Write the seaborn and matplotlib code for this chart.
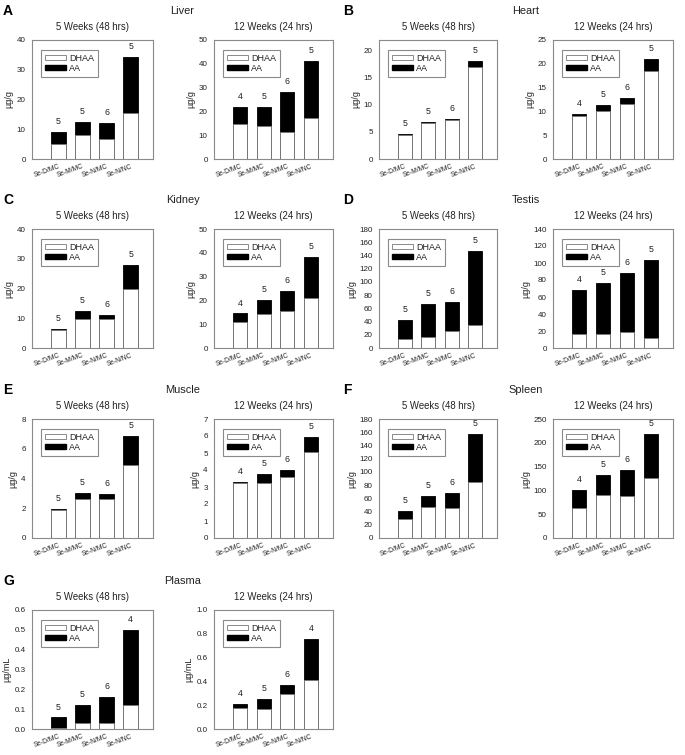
import numpy as np
import pandas as pd
import seaborn as sns
import matplotlib.pyplot as plt
from matplotlib.patches import Patch

#groups on x axis
groups = ['Se-D/MC', 'Se-M/MC', 'Se-N/MC', 'Se-N/NC']

#sample sizes above bars
n_5wk = [5, 5, 6, 5]
n_12wk = [4, 5, 6, 5]
n_plasma_5wk = [5, 5, 6, 4]
n_plasma_12wk = [4, 5, 6, 4]

#liver (ug/g)
liver_dhaa_5wk = [5.2, 8.0, 6.8, 15.3]
liver_total_5wk = [9.0, 12.4, 12.0, 34.3]
liver_dhaa_12wk = [14.8, 14.0, 11.5, 17.2]
liver_total_12wk = [21.8, 22.0, 28.2, 41.3]

#heart
heart_dhaa_5wk = [4.5, 6.6, 7.2, 17.0]
heart_total_5wk = [4.7, 6.85, 7.4, 18.2]
heart_dhaa_12wk = [9.0, 10.0, 11.6, 18.4]
heart_total_12wk = [9.5, 11.4, 12.9, 21.0]

#kidney
kidney_dhaa_5wk = [6.2, 9.6, 9.6, 19.7]
kidney_total_5wk = [6.5, 12.4, 11.1, 27.9]
kidney_dhaa_12wk = [11.0, 14.3, 15.4, 21.0]
kidney_total_12wk = [14.5, 20.2, 23.8, 38.3]

#testis
testis_dhaa_5wk = [14, 17, 25, 35]
testis_total_5wk = [43, 67, 69, 147]
testis_dhaa_12wk = [16, 16.5, 19, 12]
testis_total_12wk = [68, 77, 88, 104]

#muscle
muscle_dhaa_5wk = [1.9, 2.6, 2.65, 4.9]
muscle_total_5wk = [1.97, 3.05, 2.95, 6.85]
muscle_dhaa_12wk = [3.22, 3.22, 3.58, 5.03]
muscle_total_12wk = [3.28, 3.78, 4.0, 5.97]

#spleen
spleen_dhaa_5wk = [29, 47, 45, 84]
spleen_total_5wk = [41, 64, 68, 157]
spleen_dhaa_12wk = [64, 90, 88, 127]
spleen_total_12wk = [101, 132, 142, 219]

#plasma (ug/mL)
plasma_dhaa_5wk = [0.003, 0.03, 0.03, 0.12]
plasma_total_5wk = [0.058, 0.12, 0.16, 0.50]
plasma_dhaa_12wk = [0.18, 0.17, 0.29, 0.41]
plasma_total_12wk = [0.21, 0.25, 0.37, 0.76]

sns.set_style('white')
plt.rcParams['font.family'] = ['Liberation Sans', 'DejaVu Sans']

TEXT = '#222222'
EDGE = '#8a8a8a'
W, H = 685, 755

fig = plt.figure(figsize=(W / 100, H / 100), dpi=100)


def add_ax(x0, y0, w, h):
    return fig.add_axes([x0 / W, 1 - (y0 + h) / H, w / W, h / H])


def draw_panel(ax, dhaa, total, n, ymax, ystep, ylabel, fmt, w):
    df = pd.DataFrame({'group': groups, 'DHAA': dhaa, 'Total': total})
    #total bar in black, DHAA part drawn over it in white
    sns.barplot(data=df, x='group', y='Total', color='black', width=0.6,
                saturation=1, errorbar=None, edgecolor='black', linewidth=0.6, ax=ax)
    sns.barplot(data=df, x='group', y='DHAA', color='white', width=0.6,
                saturation=1, errorbar=None, edgecolor='#777777', linewidth=0.7, ax=ax)
    for i, (t, k) in enumerate(zip(total, n)):
        ax.annotate(str(k), (i, t), xytext=(0, 7.5), textcoords='offset points',
                    ha='center', va='center', fontsize=6.3, color=TEXT)
    ax.set_xlim(-1.1, 3.93)
    ax.set_ylim(0, ymax)
    ticks = np.arange(0, ymax + ystep / 2, ystep)
    ax.set_yticks(ticks)
    ax.set_yticklabels([fmt.format(t) for t in ticks], fontsize=5.8, color=TEXT)
    ax.set_xticks(range(4))
    ax.set_xticklabels(groups, rotation=20, ha='right', rotation_mode='anchor',
                       fontsize=4.8, color=TEXT)
    ax.tick_params(axis='x', length=0, pad=3)
    ax.tick_params(axis='y', length=2.5, width=0.6, color=EDGE, pad=2)
    ax.set_xlabel('')
    ax.set_ylabel(ylabel, fontsize=6.5, color=TEXT, labelpad=2.5)
    for s in ax.spines.values():
        s.set_color(EDGE)
        s.set_linewidth(0.8)
    handles = [Patch(facecolor='white', edgecolor='#777777', linewidth=0.6, label='DHAA'),
               Patch(facecolor='black', edgecolor='black', label='AA')]
    leg = ax.legend(handles=handles, loc='upper left', bbox_to_anchor=(9 / w, 1 - 10 / 119),
                    borderaxespad=0, fontsize=6.5, handlelength=2.4, handleheight=0.45,
                    handletextpad=0.3, labelspacing=0.15, borderpad=0.4,
                    fancybox=False, framealpha=1)
    leg.get_frame().set_edgecolor(EDGE)
    leg.get_frame().set_linewidth(0.8)
    for t in leg.get_texts():
        t.set_color(TEXT)


#panel table: letter, organ, group x, row y, 5wk data, 12wk data, limits, unit
panels = [
    ('A', 'Liver', 0, 40, liver_dhaa_5wk, liver_total_5wk, n_5wk, 40, 10,
     liver_dhaa_12wk, liver_total_12wk, n_12wk, 50, 10, 'µg/g', '{:.0f}'),
    ('B', 'Heart', 1, 40, heart_dhaa_5wk, heart_total_5wk, n_5wk, 22, 5,
     heart_dhaa_12wk, heart_total_12wk, n_12wk, 25, 5, 'µg/g', '{:.0f}'),
    ('C', 'Kidney', 0, 229, kidney_dhaa_5wk, kidney_total_5wk, n_5wk, 40, 10,
     kidney_dhaa_12wk, kidney_total_12wk, n_12wk, 50, 10, 'µg/g', '{:.0f}'),
    ('D', 'Testis', 1, 229, testis_dhaa_5wk, testis_total_5wk, n_5wk, 180, 20,
     testis_dhaa_12wk, testis_total_12wk, n_12wk, 140, 20, 'µg/g', '{:.0f}'),
    ('E', 'Muscle', 0, 419, muscle_dhaa_5wk, muscle_total_5wk, n_5wk, 8, 2,
     muscle_dhaa_12wk, muscle_total_12wk, n_12wk, 7, 1, 'µg/g', '{:.0f}'),
    ('F', 'Spleen', 1, 419, spleen_dhaa_5wk, spleen_total_5wk, n_5wk, 180, 20,
     spleen_dhaa_12wk, spleen_total_12wk, n_12wk, 250, 50, 'µg/g', '{:.0f}'),
    ('G', 'Plasma', 0, 610, plasma_dhaa_5wk, plasma_total_5wk, n_plasma_5wk, 0.6, 0.1,
     plasma_dhaa_12wk, plasma_total_12wk, n_plasma_12wk, 1.0, 0.2, 'µg/mL', '{:.1f}'),
]

#axes x positions (left, width) for 5wk and 12wk in each column
col_x = [((32, 121), (214, 119)), ((379, 118), (553, 120))]
letter_x = [3, 343]
ah = 119

for (letter, organ, col, y0, d5, t5, n5, m5, s5, d12, t12, n12, m12, s12, unit, fmt) in panels:
    (x5, w5), (x12, w12) = col_x[col]
    ax5 = add_ax(x5, y0, w5, ah)
    ax12 = add_ax(x12, y0, w12, ah)
    draw_panel(ax5, d5, t5, n5, m5, s5, unit, fmt, w5)
    draw_panel(ax12, d12, t12, n12, m12, s12, unit, fmt, w12)
    ax5.set_title('5 Weeks (48 hrs)', fontsize=6.9, color=TEXT, pad=7)
    ax12.set_title('12 Weeks (24 hrs)', fontsize=6.9, color=TEXT, pad=7)
    cx = (x5 + x12 + w12) / 2
    fig.text(cx / W, 1 - (y0 - 29) / H, organ, ha='center', va='center',
             fontsize=7.9, color=TEXT)
    fig.text(letter_x[col] / W, 1 - (y0 - 29) / H, letter, ha='left', va='center',
             fontsize=10, fontweight='bold', color='black')

fig.savefig('out.png', dpi=100, facecolor='white')
